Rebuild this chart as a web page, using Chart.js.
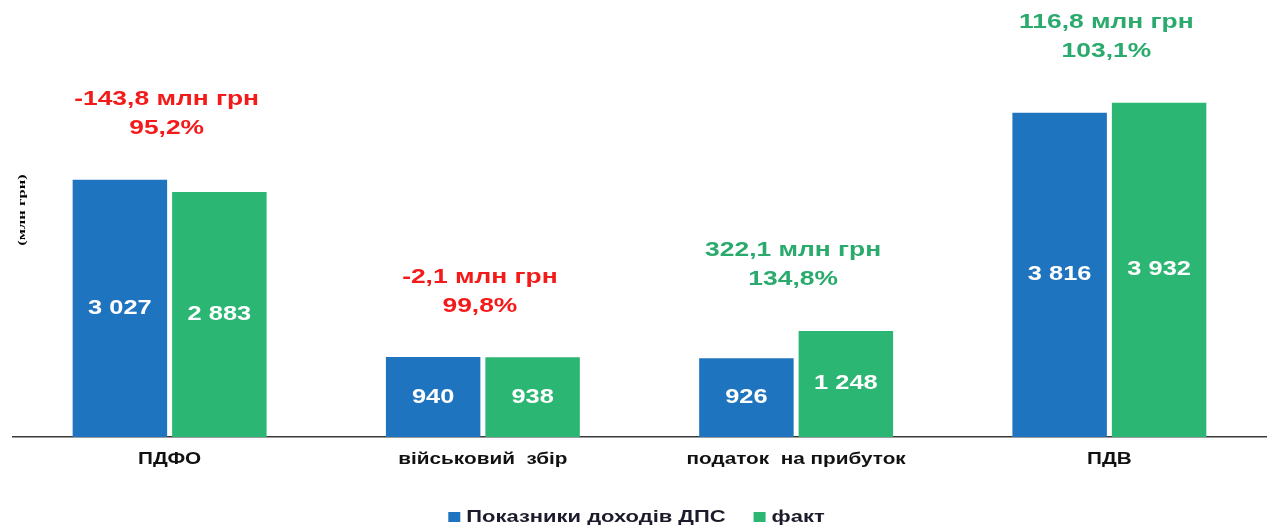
<!DOCTYPE html>
<html>
<head>
<meta charset="utf-8">
<script src="https://cdn.jsdelivr.net/npm/chart.js@4/dist/chart.umd.min.js"></script>
<style>
  html, body { margin: 0; padding: 0; background: #fff; }
  #wrap { width: 1269px; height: 526px; }
</style>
</head>
<body>
<div id="wrap"><canvas id="taxChart"></canvas></div>
<script>
const categories = ['ПДФО', 'військовий  збір', 'податок  на прибуток', 'ПДВ'];
const planValues = [3027, 940, 926, 3816];
const factValues = [2883, 938, 1248, 3932];
const diffLabels = ['-143,8 млн грн', '-2,1 млн грн', '322,1 млн грн', '116,8 млн грн'];
const pctLabels = ['95,2%', '99,8%', '134,8%', '103,1%'];
const seriesNames = ['Показники доходів ДПС', 'факт'];
const unitLabel = '(млн грн)';

const BLUE = '#1f74bf';
const GREEN = '#2bb673';
const RED = '#f51a1a';
const GREEN_TXT = '#2aaa6c';
const SANS = '"Liberation Sans", Arial, sans-serif';

function fmt(v) {
  return String(v).replace(/\B(?=(\d{3})+(?!\d))/g, ' ');
}

// the source picture has its text stretched sideways, so text is drawn with a x-scale
function wideText(ctx, txt, x, y, sx) {
  ctx.save();
  ctx.translate(x, y);
  ctx.scale(sx, 1);
  ctx.fillText(txt, 0, 0);
  ctx.restore();
}

const labelsPlugin = {
  id: 'labelsPlugin',
  afterDraw(chart) {
    const ctx = chart.ctx;
    const area = chart.chartArea;
    const m0 = chart.getDatasetMeta(0).data;
    const m1 = chart.getDatasetMeta(1).data;
    ctx.save();
    ctx.textAlign = 'center';
    ctx.textBaseline = 'middle';

    // values inside bars
    ctx.font = 'bold 20px ' + SANS;
    ctx.fillStyle = '#fff';
    chart.data.datasets.forEach((ds, di) => {
      chart.getDatasetMeta(di).data.forEach((bar, i) => {
        wideText(ctx, fmt(ds.data[i]), bar.x, (bar.y + bar.base) / 2, 1.27);
      });
    });

    // difference / percent above each group
    ctx.font = 'bold 20px ' + SANS;
    categories.forEach((c, i) => {
      const top = Math.min(m0[i].y, m1[i].y);
      const cx = (m0[i].x + m1[i].x) / 2 - 3;
      ctx.fillStyle = factValues[i] >= planValues[i] ? GREEN_TXT : RED;
      wideText(ctx, diffLabels[i], cx, top - 80, 1.32);
      wideText(ctx, pctLabels[i], cx, top - 51, 1.32);
    });

    // category labels
    ctx.font = 'bold 17px ' + SANS;
    ctx.fillStyle = '#111';
    const xs = chart.scales.x;
    categories.forEach((c, i) => {
      wideText(ctx, c, xs.getPixelForValue(i), area.bottom + 22, 1.22);
    });

    // unit label on the left
    ctx.save();
    ctx.translate(22, 210);
    ctx.rotate(-Math.PI / 2);
    ctx.scale(1.5, 1);
    ctx.fillStyle = '#000';
    ctx.font = 'bold 11px "Liberation Serif", "Times New Roman", serif';
    ctx.fillText(unitLabel, 0, 0);
    ctx.restore();

    // legend
    const lx = 1.33, gapBox = 6, gapItem = 28, box = 12;
    ctx.font = 'bold 16.5px ' + SANS;
    ctx.textAlign = 'left';
    const widths = seriesNames.map(s => ctx.measureText(s).width * lx);
    const total = widths.reduce((a, w) => a + box + gapBox + w, 0) + gapItem;
    let x = chart.width / 2 + 2 - total / 2;
    const ly = 517;
    [BLUE, GREEN].forEach((col, i) => {
      ctx.fillStyle = col;
      ctx.fillRect(x, ly - 5, box, 10);
      x += box + gapBox;
      ctx.fillStyle = '#1b1b2b';
      wideText(ctx, seriesNames[i], x, ly, lx);
      x += widths[i] + gapItem;
    });
    ctx.restore();
  }
};

new Chart(document.getElementById('taxChart'), {
  type: 'bar',
  data: {
    labels: categories,
    datasets: [
      { label: seriesNames[0], data: planValues, backgroundColor: BLUE },
      { label: seriesNames[1], data: factValues, backgroundColor: GREEN }
    ]
  },
  options: {
    responsive: true,
    maintainAspectRatio: false,
    animation: false,
    layout: { padding: { left: 13, right: 3, top: 0, bottom: 89 } },
    datasets: {
      bar: { categoryPercentage: 0.635, barPercentage: 0.95 }
    },
    scales: {
      x: {
        grid: { display: false, drawTicks: false },
        border: { display: true, color: '#3a3a3a', width: 1.5 },
        ticks: { display: false },
        afterFit(scale) { scale.height = 0; }
      },
      y: {
        display: false,
        min: 0,
        max: 5141
      }
    },
    plugins: {
      tooltip: { enabled: false },
      legend: { display: false }
    }
  },
  plugins: [labelsPlugin]
});
</script>
</body>
</html>
